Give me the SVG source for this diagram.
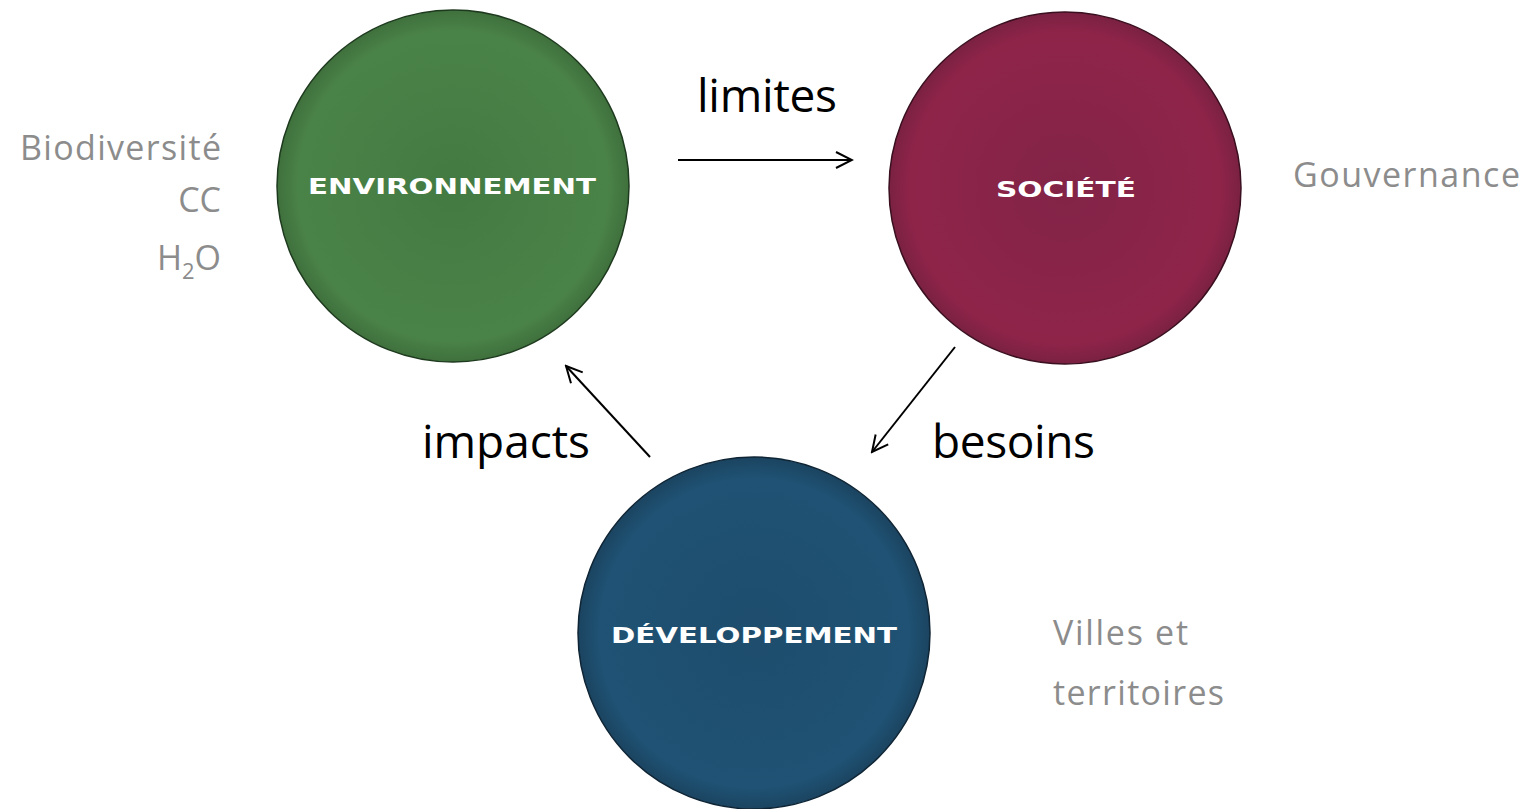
<svg xmlns="http://www.w3.org/2000/svg" width="1529" height="809" viewBox="0 0 1529 809">
<style>
.big{font-family:"Open Sans","Noto Sans",sans-serif;font-size:46px;fill:#000}
.grey{font-family:"Open Sans","Noto Sans",sans-serif;font-size:34px;fill:#8c8c8c}
.cap{font-family:"DejaVu Sans",sans-serif;font-weight:bold;fill:#fff;text-anchor:middle;font-size:21px}
.edge{stroke:#000;stroke-width:2;fill:none;marker-end:url(#ah)}
</style>
<defs>
<marker id="ah" viewBox="0 0 20 20" refX="18" refY="10" markerWidth="20" markerHeight="20" markerUnits="userSpaceOnUse" orient="auto">
<path d="M2,2 L18,10 L2,18" fill="none" stroke="#000" stroke-width="2"/>
</marker>
<radialGradient id="gG" cx="50%" cy="50%" r="50%">
<stop offset="0" stop-color="#437a42"/><stop offset="0.88" stop-color="#4a8348"/><stop offset="1" stop-color="#3f703d"/>
</radialGradient>
<radialGradient id="gR" cx="50%" cy="50%" r="50%">
<stop offset="0" stop-color="#822447"/><stop offset="0.88" stop-color="#8f2449"/><stop offset="1" stop-color="#7a2141"/>
</radialGradient>
<radialGradient id="gB" cx="50%" cy="50%" r="50%">
<stop offset="0" stop-color="#1e4d6d"/><stop offset="0.88" stop-color="#1f5274"/><stop offset="1" stop-color="#1b4460"/>
</radialGradient>
</defs>
<rect width="1529" height="809" fill="#fff"/>
<g id="node-environnement">
<circle cx="453" cy="186" r="176" fill="url(#gG)" stroke="#1e3a1e" stroke-width="1.5"/>
<text class="cap" x="452" y="194" textLength="288" lengthAdjust="spacingAndGlyphs">ENVIRONNEMENT</text>
</g>
<g id="node-societe">
<circle cx="1065" cy="188" r="176" fill="url(#gR)" stroke="#3a0f1f" stroke-width="1.5"/>
<text class="cap" x="1066" y="197" textLength="140" lengthAdjust="spacingAndGlyphs">SOCIÉTÉ</text>
</g>
<g id="node-developpement">
<circle cx="754" cy="633" r="176" fill="url(#gB)" stroke="#0f2535" stroke-width="1.5"/>
<text class="cap" x="754" y="643" textLength="286" lengthAdjust="spacingAndGlyphs">DÉVELOPPEMENT</text>
</g>
<g id="connectors">
<line class="edge" x1="678" y1="160" x2="852" y2="160"/>
<line class="edge" x1="650" y1="457" x2="566" y2="366"/>
<line class="edge" x1="955" y1="347" x2="872" y2="452"/>
</g>
<g id="labels">
<text class="big" x="697" y="112" textLength="140">limites</text>
<text class="big" x="422" y="458" textLength="168">impacts</text>
<text class="big" x="932" y="458" textLength="163">besoins</text>
<text class="grey" x="221" y="160" text-anchor="end" textLength="201">Biodiversité</text>
<text class="grey" x="221" y="212" text-anchor="end">CC</text>
<text class="grey" x="221" y="270" text-anchor="end">H<tspan font-size="22" dy="9">2</tspan><tspan dy="-9">O</tspan></text>
<text class="grey" x="1293" y="187" textLength="227">Gouvernance</text>
<text class="grey" x="1053" y="645" textLength="135">Villes et</text>
<text class="grey" x="1053" y="705" textLength="171">territoires</text>
</g>
</svg>
